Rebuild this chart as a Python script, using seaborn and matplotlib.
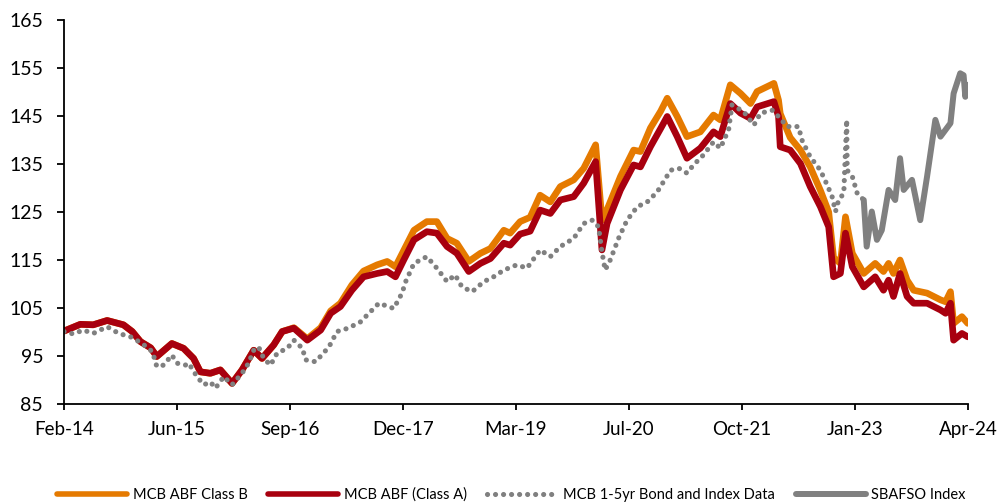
import matplotlib
matplotlib.use("Agg")
import matplotlib.pyplot as plt
import matplotlib.dates as mdates
import pandas as pd
import seaborn as sns

# ---------------- data ----------------
fund_dates = [
    "2014-02-28", "2014-05-06", "2014-06-28", "2014-08-24", "2014-10-30", "2014-12-05",
    "2015-01-08", "2015-02-19", "2015-03-16", "2015-05-17", "2015-07-04", "2015-08-14",
    "2015-09-11", "2015-10-22", "2015-12-02", "2016-01-19", "2016-02-29", "2016-04-17",
    "2016-05-21", "2016-07-08", "2016-08-12", "2016-09-29", "2016-11-23", "2017-01-17",
    "2017-02-27", "2017-04-08", "2017-05-25", "2017-07-12", "2017-09-06", "2017-10-17",
    "2017-11-20", "2017-12-24", "2018-02-04", "2018-03-29", "2018-05-09", "2018-06-20",
    "2018-07-30", "2018-09-17", "2018-11-04", "2018-12-15", "2019-02-08", "2019-03-06",
    "2019-04-16", "2019-05-27", "2019-07-07", "2019-08-18", "2019-09-28", "2019-11-22",
    "2020-01-02", "2020-02-20", "2020-03-17", "2020-04-07", "2020-06-01", "2020-07-25",
    "2020-08-22", "2020-10-02", "2020-11-13", "2020-12-10", "2021-01-20", "2021-03-01",
    "2021-04-25", "2021-06-18", "2021-07-16", "2021-08-26", "2021-10-07", "2021-11-17",
    "2021-12-14", "2022-02-21", "2022-03-12", "2022-03-19", "2022-04-29", "2022-06-10",
    "2022-07-20", "2022-08-31", "2022-10-04", "2022-10-24", "2022-11-21", "2022-12-12",
    "2023-01-09", "2023-02-25", "2023-04-13", "2023-05-17", "2023-06-07", "2023-06-27",
    "2023-07-24", "2023-08-22", "2023-09-18", "2023-11-12", "2024-01-06", "2024-01-27",
    "2024-02-16", "2024-02-29", "2024-04-03", "2024-04-27",
]
class_a = [
    100.2, 101.6, 101.5, 102.4, 101.5, 100.1,
    98.0, 96.7, 94.9, 97.6, 96.6, 94.5,
    91.7, 91.4, 92.1, 89.3, 92.1, 96.2,
    94.5, 97.3, 100.1, 100.8, 98.3, 100.4,
    103.9, 105.3, 108.7, 111.5, 112.2, 112.6,
    111.5, 115.0, 119.2, 120.9, 120.6, 117.8,
    116.4, 112.6, 114.3, 115.3, 118.5, 118.1,
    120.4, 121.0, 125.4, 124.7, 127.5, 128.2,
    131.0, 135.5, 117.1, 122.6, 129.6, 134.8,
    134.4, 138.6, 142.4, 144.9, 140.7, 136.2,
    138.3, 141.7, 140.7, 147.6, 145.6, 144.5,
    146.9, 148.0, 144.9, 138.6, 137.9, 135.1,
    130.3, 126.1, 121.9, 111.5, 112.2, 120.6,
    113.6, 109.4, 111.5, 108.7, 110.8, 107.4,
    112.2, 107.4, 106.0, 106.0, 104.6, 103.9,
    106.0, 98.3, 99.7, 99.0,
]
class_b = [
    100.2, 101.6, 101.5, 102.4, 101.5, 100.1,
    98.0, 96.7, 94.9, 97.6, 96.6, 94.5,
    91.7, 91.4, 92.1, 89.3, 92.1, 96.2,
    94.5, 97.3, 100.1, 100.9, 98.6, 100.9,
    104.4, 106.0, 109.8, 112.7, 114.0, 114.7,
    113.6, 117.0, 121.2, 123.0, 123.0, 119.5,
    118.5, 114.7, 116.4, 117.4, 121.2, 120.6,
    123.0, 123.9, 128.5, 127.1, 130.3, 131.7,
    134.1, 139.0, 123.3, 125.5, 132.4, 137.9,
    137.6, 142.5, 146.0, 148.7, 144.9, 140.7,
    141.7, 145.2, 144.2, 151.5, 149.7, 147.6,
    150.1, 151.8, 148.3, 145.5, 140.5, 137.9,
    134.4, 129.5, 125.0, 115.5, 114.3, 124.0,
    116.4, 112.2, 114.3, 112.6, 114.3, 112.2,
    115.0, 110.8, 108.7, 108.1, 106.7, 106.3,
    108.4, 101.8, 103.2, 101.8,
]

bond_dates = [
    "2014-02-28", "2014-04-07", "2014-05-18", "2014-06-28", "2014-08-24", "2014-10-11",
    "2014-11-28", "2015-01-15", "2015-02-26", "2015-03-16", "2015-04-13", "2015-05-17",
    "2015-06-07", "2015-07-11", "2015-07-25", "2015-08-28", "2015-09-25", "2015-10-22",
    "2015-11-12", "2015-12-16", "2016-01-19", "2016-02-29", "2016-03-27", "2016-04-17",
    "2016-05-07", "2016-05-28", "2016-06-25", "2016-07-22", "2016-09-02", "2016-09-29",
    "2016-11-03", "2016-11-16", "2016-12-27", "2017-02-20", "2017-03-25", "2017-05-10",
    "2017-06-29", "2017-08-09", "2017-09-13", "2017-11-13", "2017-12-17", "2018-01-01",
    "2018-02-04", "2018-03-29", "2018-05-09", "2018-06-20", "2018-07-23", "2018-08-20",
    "2018-10-01", "2018-11-18", "2018-12-28", "2019-02-08", "2019-04-03", "2019-05-14",
    "2019-07-07", "2019-08-18", "2019-09-28", "2019-11-22", "2020-01-02", "2020-02-07",
    "2020-03-03", "2020-03-17", "2020-03-30", "2020-04-20", "2020-05-24", "2020-06-28",
    "2020-08-09", "2020-09-19", "2020-10-30", "2020-12-24", "2021-01-27", "2021-03-01",
    "2021-03-28", "2021-05-08", "2021-06-18", "2021-07-16", "2021-08-19", "2021-09-02",
    "2021-10-20", "2021-12-01", "2021-12-28", "2022-02-15", "2022-03-19", "2022-04-16",
    "2022-06-02", "2022-06-16", "2022-07-20", "2022-08-31", "2022-09-28", "2022-10-18",
    "2022-11-01", "2022-11-14", "2022-12-05", "2022-12-17", "2022-12-19", "2023-01-09",
    "2023-01-29", "2023-02-25",
]
bond_vals = [
    100.1, 99.6, 100.4, 99.7, 101.1, 99.7,
    99.0, 97.6, 95.9, 92.8, 93.1, 95.2,
    93.5, 93.1, 93.5, 90.7, 89.0, 89.6,
    88.3, 90.7, 89.0, 91.4, 93.5, 96.2,
    96.9, 94.5, 93.1, 95.6, 96.6, 98.3,
    96.6, 94.2, 93.8, 96.9, 100.1, 100.8,
    102.1, 104.2, 106.0, 104.9, 108.1, 110.5,
    114.3, 115.7, 113.3, 110.5, 111.9, 109.4,
    108.4, 110.5, 111.5, 112.9, 114.0, 113.3,
    117.1, 115.7, 117.8, 119.5, 122.6, 123.3,
    121.9, 116.7, 112.9, 115.0, 119.5, 123.3,
    126.1, 127.1, 129.2, 133.7, 134.1, 133.1,
    134.8, 136.9, 139.6, 138.3, 142.1, 147.3,
    145.9, 143.1, 145.6, 146.2, 144.5, 142.8,
    142.8, 140.0, 136.5, 133.7, 130.6, 128.2,
    125.1, 127.5, 128.9, 144.2, 133.7, 132.4,
    128.9, 127.5,
]

sbafso_dates = [
    "2023-02-25", "2023-03-09", "2023-03-30", "2023-04-20", "2023-05-10", "2023-06-07",
    "2023-07-04", "2023-07-24", "2023-08-08", "2023-09-11", "2023-10-15", "2023-11-12",
    "2023-12-16", "2024-01-06", "2024-02-16", "2024-02-29", "2024-03-27", "2024-04-10",
    "2024-04-17", "2024-04-27",
]
sbafso_vals = [
    127.5, 117.8, 125.1, 119.2, 121.2, 129.6,
    127.5, 136.2, 129.6, 131.7, 123.3, 132.4,
    144.2, 140.7, 143.5, 149.7, 153.9, 153.5,
    149.0, 151.5,
]

series_labels = ["MCB ABF Class B", "MCB ABF (Class A)",
                 "MCB 1-5yr Bond and Index Data", "SBAFSO Index"]
y_ticks = [85, 95, 105, 115, 125, 135, 145, 155, 165]
x_start, x_end = "2014-02-28", "2024-04-28"

# ---------------- styling ----------------
sns.set_style("white")
plt.rcParams["font.family"] = ["Lato", "DejaVu Sans"]

ORANGE = "#E57A00"
RED = "#A8000F"
GREY = "#808080"

fig = plt.figure(figsize=(9.97, 5.04), dpi=100)
ax = fig.add_axes([0.0642, 0.1984, 0.9067, 0.7619])

common = dict(ax=ax, solid_capstyle="round", solid_joinstyle="round")
sns.lineplot(x=pd.to_datetime(fund_dates), y=class_b, color=ORANGE,
             linewidth=4.8, label=series_labels[0], **common)
sns.lineplot(x=pd.to_datetime(fund_dates), y=class_a, color=RED,
             linewidth=4.8, label=series_labels[1], **common)
sns.lineplot(x=pd.to_datetime(bond_dates), y=bond_vals, color=GREY,
             linewidth=3.7, linestyle=(0, (0.01, 1.55)), dash_capstyle="round",
             label=series_labels[2], ax=ax)
sns.lineplot(x=pd.to_datetime(sbafso_dates), y=sbafso_vals, color=GREY,
             linewidth=4.3, label=series_labels[3], **common)

ax.set_ylim(85, 165)
ax.set_yticks(y_ticks)
t0, t1 = mdates.datestr2num(x_start), mdates.datestr2num(x_end)
ax.set_xlim(t0, t1)
ax.set_xticks([t0 + (t1 - t0) * k / 8 for k in range(9)])
ax.xaxis.set_major_formatter(mdates.DateFormatter("%b-%y"))
ax.set_xlabel("")
ax.set_ylabel("")

for s in ["top", "right"]:
    ax.spines[s].set_visible(False)
for s in ["left", "bottom"]:
    ax.spines[s].set_color("black")
    ax.spines[s].set_linewidth(1.3)

ax.tick_params(axis="y", direction="out", length=5, width=1.3, color="black",
               pad=10, labelsize=14, labelcolor="black", left=True)
ax.tick_params(axis="x", direction="out", length=4.5, width=1.3, color="black",
               pad=8, labelsize=13.5, labelcolor="black", bottom=True)

handles, labels = ax.get_legend_handles_labels()
if ax.get_legend() is not None:
    ax.get_legend().remove()
leg = fig.legend(handles, labels, loc="center", bbox_to_anchor=(0.513, 1 - 495 / 504),
                 ncol=4, frameon=False, fontsize=10.5, handlelength=4.8,
                 handletextpad=0.4, columnspacing=1.4, labelcolor="black")
for ln in leg.get_lines()[:2]:
    ln.set_linewidth(4.0)

fig.savefig("out.png", dpi=100)
